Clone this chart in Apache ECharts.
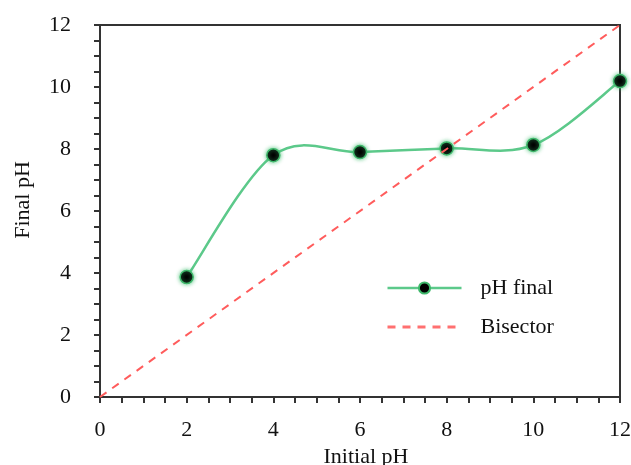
<!DOCTYPE html>
<html>
<head>
<meta charset="utf-8">
<script src="https://cdn.jsdelivr.net/npm/echarts@6/dist/echarts.min.js"></script>
<style>
  html, body { margin: 0; padding: 0; background: #fff; }
  #chart { width: 631px; height: 465px; }
</style>
</head>
<body>
<div id="chart"></div>
<script>
// Initial pH vs final pH measurements
const initialPH = [2, 4, 6, 8, 10, 12];
const finalPH = [3.87, 7.8, 7.9, 8.02, 8.13, 10.19];
// Bisector (final = initial) endpoints
const bisectorX = [0, 12];
const bisectorY = [0, 12];

const FONT = '"Liberation Serif", "Times New Roman", serif';
const AXIS_COLOR = '#333';
const GREEN = '#5cc98a';
const RED = '#ff5c5c';

const chart = echarts.init(document.getElementById('chart'), null, { renderer: 'canvas' });

const axisCommon = {
  type: 'value',
  min: 0,
  max: 12,
  interval: 2,
  nameTextStyle: { fontFamily: FONT, fontSize: 22, color: '#111' },
  axisLine: { show: true, lineStyle: { color: AXIS_COLOR, width: 2 } },
  axisTick: { show: true, length: 6, lineStyle: { color: AXIS_COLOR, width: 2 } },
  minorTick: { show: true, splitNumber: 4, length: 6, lineStyle: { color: AXIS_COLOR, width: 2 } },
  axisLabel: { fontFamily: FONT, fontSize: 22, color: '#111', margin: 22 },
  splitLine: { show: false }
};

// Smooth curve through the measurements (Catmull-Rom style cubic Bezier in pixel space)
function renderCurve(params, api) {
  if (params.dataIndex !== 0) return null;
  const pts = initialPH.map((x, i) => api.coord([x, finalPH[i]]));
  const n = pts.length;
  let d = 'M' + pts[0][0] + ' ' + pts[0][1];
  for (let i = 0; i < n - 1; i++) {
    const p0 = pts[Math.max(i - 1, 0)];
    const p1 = pts[i];
    const p2 = pts[i + 1];
    const p3 = pts[Math.min(i + 2, n - 1)];
    const c1x = p1[0] + (p2[0] - p0[0]) / 6;
    const c1y = p1[1] + (p2[1] - p0[1]) / 6;
    const c2x = p2[0] - (p3[0] - p1[0]) / 6;
    const c2y = p2[1] - (p3[1] - p1[1]) / 6;
    d += ' C' + c1x + ' ' + c1y + ' ' + c2x + ' ' + c2y + ' ' + p2[0] + ' ' + p2[1];
  }
  return {
    type: 'path',
    shape: { pathData: d },
    style: { stroke: GREEN, fill: 'none', lineWidth: 2.5 }
  };
}

chart.setOption({
  animation: false,
  grid: {
    left: 100, right: 11, top: 25, bottom: 68,
    outerBoundsMode: 'none',
    containLabel: false,
    show: true, borderColor: AXIS_COLOR, borderWidth: 2
  },
  xAxis: Object.assign({}, axisCommon, {
    name: 'Initial pH',
    nameLocation: 'middle',
    nameGap: 46,
    nameTextStyle: Object.assign({}, axisCommon.nameTextStyle, { padding: [0, 0, 0, 12] })
  }),
  yAxis: Object.assign({}, axisCommon, {
    name: 'Final pH',
    nameLocation: 'middle',
    nameGap: 66,
    nameTextStyle: Object.assign({}, axisCommon.nameTextStyle, { padding: [0, 0, 0, 22] }),
    axisLabel: Object.assign({}, axisCommon.axisLabel, { margin: 29 })
  }),
  legend: {
    orient: 'vertical',
    left: 381,
    top: 272,
    itemWidth: 74,
    itemHeight: 14,
    itemGap: 17,
    textStyle: { fontFamily: FONT, fontSize: 22, color: '#111', padding: [0, 0, 0, 14] },
    data: [
      { name: 'pH final', lineStyle: { color: GREEN, width: 2.5, opacity: 1 } },
      { name: 'Bisector', itemStyle: { opacity: 0 }, lineStyle: { color: '#ff7070', width: 3, type: [8, 7], opacity: 1 } }
    ]
  },
  series: [
    {
      name: 'pH final curve',
      type: 'custom',
      renderItem: renderCurve,
      data: initialPH.map((x, i) => [x, finalPH[i]]),
      z: 1,
      silent: true
    },
    {
      name: 'pH final',
      type: 'line',
      data: initialPH.map((x, i) => [x, finalPH[i]]),
      symbol: 'circle',
      symbolSize: 13,
      lineStyle: { color: GREEN, width: 2.5, opacity: 0 },
      itemStyle: { color: '#000', borderColor: '#3fb86b', borderWidth: 1.5, shadowColor: 'rgba(60,190,110,0.8)', shadowBlur: 4 },
      z: 2
    },
    {
      name: 'Bisector',
      type: 'line',
      data: bisectorX.map((x, i) => [x, bisectorY[i]]),
      symbol: 'none',
      lineStyle: { color: RED, width: 2, type: [8, 7] },
      itemStyle: { color: RED },
      z: 3
    }
  ]
});
</script>
</body>
</html>
